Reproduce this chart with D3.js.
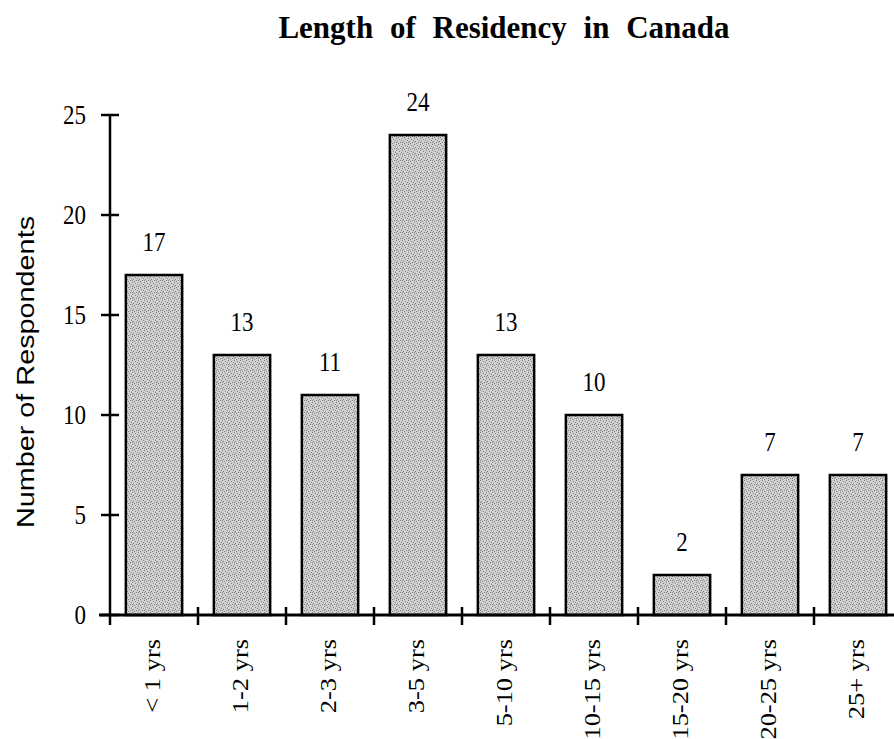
<!DOCTYPE html>
<html>
<head>
<meta charset="utf-8">
<script src="https://cdn.jsdelivr.net/npm/d3@7"></script>
<style>
  body { margin: 0; background: #fff; }
  svg { display: block; }
</style>
</head>
<body>
<div id="chart"></div>
<script>
var categories = ["< 1 yrs", "1-2 yrs", "2-3 yrs", "3-5 yrs", "5-10 yrs", "10-15 yrs", "15-20 yrs", "20-25 yrs", "25+ yrs"];
var respondents = [17, 13, 11, 24, 13, 10, 2, 7, 7];
var yTicks = [0, 5, 10, 15, 20, 25];

var width = 894, height = 739;
var margin = { top: 115, right: 0, bottom: 124, left: 110 };
var stretch = 1.15; // the source picture is a bit taller than wide
var serif = 'Liberation Serif, Times New Roman, serif';

var svg = d3.select('#chart')
    .append('svg')
    .attr('width', width)
    .attr('height', height);

// stippled grey fill
var pat = svg.append('defs').append('pattern')
    .attr('id', 'stipple')
    .attr('patternUnits', 'userSpaceOnUse')
    .attr('width', 6)
    .attr('height', 6);
pat.append('rect').attr('width', 6).attr('height', 6).attr('fill', '#d0d0d0');
[[0, 0], [3, 1], [5, 2], [1, 3], [4, 4], [2, 5], [0, 4]].forEach(function(p) {
    pat.append('rect').attr('x', p[0]).attr('y', p[1])
        .attr('width', 1).attr('height', 1).attr('fill', '#808080');
});

var xScale = d3.scaleBand()
    .domain(categories)
    .range([margin.left, margin.left + 9 * 88])
    .paddingInner(0.36)
    .paddingOuter(0.18);

var yScale = d3.scaleLinear()
    .domain([0, 25])
    .range([height - margin.bottom, margin.top]);

var y0 = yScale(0);

// title
svg.append('text')
    .attr('x', 504)
    .attr('y', 38)
    .attr('text-anchor', 'middle')
    .attr('font-family', serif)
    .attr('font-weight', 'bold')
    .attr('font-size', 31)
    .attr('word-spacing', 9)
    .text('Length of Residency in Canada');

// bars
svg.selectAll('.bar')
    .data(respondents)
    .enter()
    .append('rect')
    .attr('class', 'bar')
    .attr('x', function(d, i) { return xScale(categories[i]); })
    .attr('y', function(d) { return yScale(d); })
    .attr('width', xScale.bandwidth())
    .attr('height', function(d) { return y0 - yScale(d); })
    .attr('fill', 'url(#stipple)')
    .attr('stroke', '#000')
    .attr('stroke-width', 2.5);

// value labels
svg.selectAll('.val')
    .data(respondents)
    .enter()
    .append('text')
    .attr('class', 'val')
    .attr('transform', function(d, i) {
        return 'translate(' + (xScale(categories[i]) + xScale.bandwidth() / 2) + ',' + (yScale(d) - 24) + ') scale(1,' + stretch + ')';
    })
    .attr('text-anchor', 'middle')
    .attr('font-family', serif)
    .attr('font-size', 23)
    .text(function(d) { return d; });

// y axis
svg.append('line')
    .attr('x1', margin.left).attr('x2', margin.left)
    .attr('y1', yScale(25)).attr('y2', y0 + 10)
    .attr('stroke', '#000').attr('stroke-width', 2.5);

svg.selectAll('.ytick')
    .data(yTicks)
    .enter()
    .append('line')
    .attr('class', 'ytick')
    .attr('x1', margin.left - 9).attr('x2', margin.left + 9)
    .attr('y1', function(d) { return yScale(d); })
    .attr('y2', function(d) { return yScale(d); })
    .attr('stroke', '#000').attr('stroke-width', 2.5);

svg.selectAll('.ylab')
    .data(yTicks)
    .enter()
    .append('text')
    .attr('class', 'ylab')
    .attr('transform', function(d) {
        return 'translate(' + 86 + ',' + (yScale(d) + 9) + ') scale(1,' + stretch + ')';
    })
    .attr('text-anchor', 'end')
    .attr('font-family', serif)
    .attr('font-size', 23)
    .text(function(d) { return d; });

// y title
svg.append('text')
    .attr('transform', 'translate(34,372) scale(1,1.2) rotate(-90)')
    .attr('text-anchor', 'middle')
    .attr('font-family', 'Liberation Sans, Arial, sans-serif')
    .attr('font-size', 24)
    .text('Number of Respondents');

// x axis
svg.append('line')
    .attr('x1', 99).attr('x2', width)
    .attr('y1', y0).attr('y2', y0)
    .attr('stroke', '#000').attr('stroke-width', 3);

var bounds = categories.map(function(c) { return xScale(c) - xScale.step() * xScale.paddingInner() / 2; });
bounds.push(bounds[bounds.length - 1] + xScale.step());

svg.selectAll('.xtick')
    .data(bounds.slice(1))
    .enter()
    .append('line')
    .attr('class', 'xtick')
    .attr('x1', function(d) { return d; }).attr('x2', function(d) { return d; })
    .attr('y1', y0 - 8).attr('y2', y0 + 10)
    .attr('stroke', '#000').attr('stroke-width', 2.5);

svg.selectAll('.xlab')
    .data(categories)
    .enter()
    .append('text')
    .attr('class', 'xlab')
    .attr('transform', function(d) {
        return 'translate(' + (xScale(d) + xScale.bandwidth() / 2 + 6) + ',' + (y0 + 24) + ') scale(1,' + stretch + ') rotate(-90)';
    })
    .attr('text-anchor', 'end')
    .attr('font-family', serif)
    .attr('font-size', 23)
    .text(function(d) { return d; });
</script>
</body>
</html>
